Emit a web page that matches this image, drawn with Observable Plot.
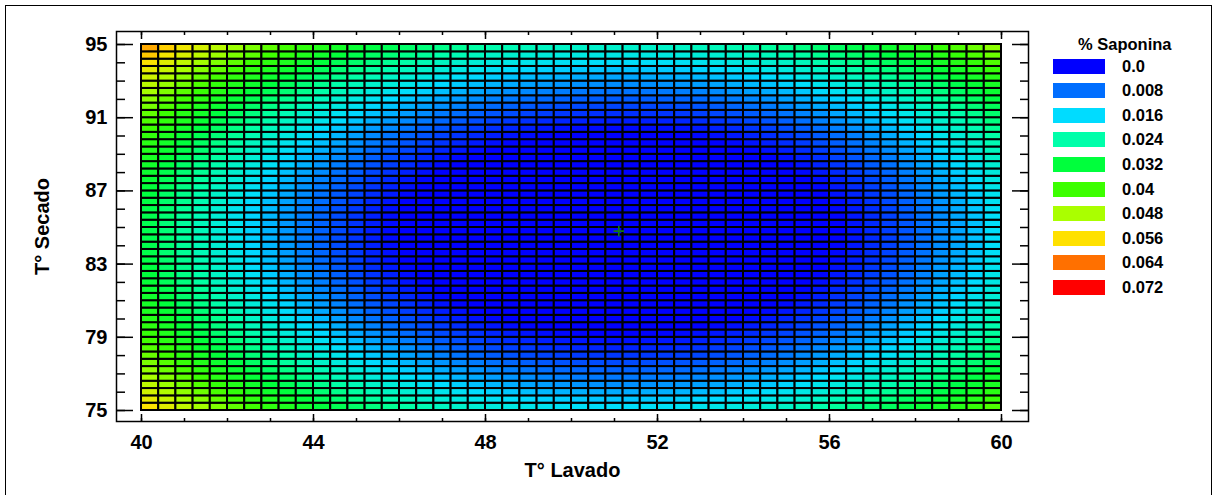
<!DOCTYPE html>
<html>
<head>
<meta charset="utf-8">
<script src="https://cdn.jsdelivr.net/npm/d3@7"></script>
<script src="https://cdn.jsdelivr.net/npm/@observablehq/plot@0.6"></script>
<style>
  html, body { margin: 0; padding: 0; background: #fff; overflow: hidden; }
  #wrap { position: relative; width: 1215px; height: 495px; font-family: "Liberation Sans", Arial, sans-serif; font-weight: bold; }
  #border { position: absolute; left: 5px; top: 5px; width: 1207px; height: 510px; border: 1.5px solid #000; box-sizing: border-box; pointer-events: none; }
  #chart { position: absolute; left: 0; top: 0; }
  #legend { position: absolute; left: 1053px; top: 31px; }
  #legend .title { position: absolute; left: 25px; top: 2px; width: 140px; font-size: 16.5px; line-height: 22px; white-space: nowrap; }
  #legend .row { position: absolute; left: 0; height: 24px; display: flex; align-items: center; white-space: nowrap; font-size: 16.5px; }
  #legend .sw { width: 52px; height: 15px; margin-right: 17px; }
</style>
</head>
<body>
<div id="wrap">
  <div id="chart"></div>
  <div id="legend"></div>
  <div id="border"></div>
</div>
<script>
// Axis ranges of the factors
const lavadoExtent = [40, 60];   // T° Lavado
const secadoExtent = [75, 95];   // T° Secado
const cellsPerAxis = 50;

// % Saponina across T° Lavado (columns), along the row through the optimum T° Secado
const saponinaPorLavado = [
  0.0306, 0.0278, 0.0251, 0.0225, 0.0199, 0.0175, 0.0152, 0.0131, 0.0110, 0.0090,
  0.0071, 0.0053, 0.0037, 0.0021, 0.0007, -0.0007, -0.0019, -0.0031, -0.0041, -0.0050,
  -0.0058, -0.0065, -0.0071, -0.0076, -0.0080, -0.0083, -0.0085, -0.0086, -0.0086, -0.0084,
  -0.0082, -0.0079, -0.0074, -0.0069, -0.0062, -0.0054, -0.0046, -0.0036, -0.0025, -0.0013,
  0.0000, 0.0014, 0.0029, 0.0045, 0.0062, 0.0080, 0.0100, 0.0120, 0.0141, 0.0164
];

// Increase of % Saponina for each T° Secado row (bottom to top), relative to the optimum row
const incrementoPorSecado = [
  0.0250, 0.0229, 0.0210, 0.0191, 0.0173, 0.0157, 0.0140, 0.0125, 0.0111, 0.0098,
  0.0085, 0.0073, 0.0062, 0.0052, 0.0043, 0.0035, 0.0028, 0.0021, 0.0016, 0.0011,
  0.0007, 0.0004, 0.0002, 0.0000, 0.0000, 0.0000, 0.0002, 0.0004, 0.0008, 0.0012,
  0.0017, 0.0023, 0.0030, 0.0038, 0.0047, 0.0057, 0.0068, 0.0079, 0.0092, 0.0106,
  0.0120, 0.0136, 0.0152, 0.0170, 0.0188, 0.0207, 0.0228, 0.0249, 0.0271, 0.0294
];

// Location of the optimum
const optimoLavado = [51.1];
const optimoSecado = [84.8];

// Colour levels of the legend
const nivelesSaponina = [0, 0.008, 0.016, 0.024, 0.032, 0.04, 0.048, 0.056, 0.064, 0.072];
const etiquetasSaponina = ["0.0", "0.008", "0.016", "0.024", "0.032", "0.04", "0.048", "0.056", "0.064", "0.072"];
const coloresSaponina = ["#0000ff", "#006eff", "#00dcff", "#00ffaa", "#00ff3c", "#3cff00", "#aaff00", "#ffe100", "#ff7000", "#ff0000"];

// Axis ticks
const lavadoTicks = [40, 44, 48, 52, 56, 60];
const secadoTicks = [75, 79, 83, 87, 91, 95];
const lavadoMinor = d3.range(40, 61, 1);
const secadoMinor = d3.range(75, 96, 1);

// Grid of cells
const dx = (lavadoExtent[1] - lavadoExtent[0]) / cellsPerAxis;
const dy = (secadoExtent[1] - secadoExtent[0]) / cellsPerAxis;
const cells = [];
incrementoPorSecado.forEach((inc, j) => {
  saponinaPorLavado.forEach((base, i) => {
    cells.push({
      x1: lavadoExtent[0] + i * dx,
      x2: lavadoExtent[0] + (i + 1) * dx,
      y1: secadoExtent[0] + j * dy,
      y2: secadoExtent[0] + (j + 1) * dy,
      value: base + inc
    });
  });
});

const tickStyle = {stroke: "black", strokeWidth: 1.5, text: null, label: null};

const plot = Plot.plot({
  width: 1215,
  height: 495,
  marginLeft: 116,
  marginRight: 187,
  marginTop: 31,
  marginBottom: 74,
  insetLeft: 25,
  insetRight: 27,
  insetTop: 13,
  insetBottom: 11,
  style: {fontFamily: "'Liberation Sans', Arial, sans-serif", fontSize: "20px", fontWeight: "bold", color: "black", background: "transparent"},
  x: {domain: lavadoExtent},
  y: {domain: secadoExtent},
  color: {type: "linear", domain: nivelesSaponina, range: coloresSaponina, clamp: true},
  marks: [
    Plot.rect(cells, {x1: "x1", x2: "x2", y1: "y1", y2: "y2", fill: "value", stroke: "black", strokeWidth: 2}),
    Plot.dot(optimoLavado.map((x, k) => ({x, y: optimoSecado[k]})), {x: "x", y: "y", symbol: "plus", r: 3.5, stroke: "#127a12", strokeWidth: 1.6}),
    Plot.frame({stroke: "black", strokeWidth: 1.5}),
    // inward ticks on all four sides
    Plot.axisY(secadoTicks, {...tickStyle, anchor: "left", tickSize: 17, dx: 17}),
    Plot.axisY(secadoMinor, {...tickStyle, anchor: "left", tickSize: 9, dx: 9}),
    Plot.axisY(secadoTicks, {...tickStyle, anchor: "right", tickSize: 17, dx: -17}),
    Plot.axisY(secadoMinor, {...tickStyle, anchor: "right", tickSize: 9, dx: -9}),
    Plot.axisX(lavadoTicks, {...tickStyle, anchor: "bottom", tickSize: 7, dy: -7}),
    Plot.axisX(lavadoMinor, {...tickStyle, anchor: "bottom", tickSize: 3, dy: -3}),
    Plot.axisX(lavadoTicks, {...tickStyle, anchor: "top", tickSize: 7, dy: 7}),
    Plot.axisX(lavadoMinor, {...tickStyle, anchor: "top", tickSize: 3, dy: 3}),
    // tick labels
    Plot.axisY(secadoTicks, {anchor: "left", tickSize: 0, tickPadding: 9, label: null, fill: "black"}),
    Plot.axisX(lavadoTicks, {anchor: "bottom", tickSize: 0, tickPadding: 13, label: null, fill: "black"}),
    // axis titles
    Plot.text(["T° Lavado"], {frameAnchor: "bottom", text: d => d, textAnchor: "middle", lineAnchor: "middle", dy: 49, fill: "black"}),
    Plot.text(["T° Secado"], {frameAnchor: "left", text: d => d, textAnchor: "middle", lineAnchor: "middle", rotate: -90, dx: -74, fill: "black"})
  ]
});
document.getElementById("chart").appendChild(plot);

// Legend built from the same colour scale
const colorScale = plot.scale("color");
const legend = document.getElementById("legend");
const title = document.createElement("div");
title.className = "title";
title.textContent = "% Saponina";
legend.appendChild(title);
nivelesSaponina.forEach((v, k) => {
  const row = document.createElement("div");
  row.className = "row";
  row.style.top = (23 + k * 24.6) + "px";
  const sw = document.createElement("div");
  sw.className = "sw";
  sw.style.background = colorScale.apply(v);
  const lab = document.createElement("span");
  lab.textContent = etiquetasSaponina[k];
  row.appendChild(sw);
  row.appendChild(lab);
  legend.appendChild(row);
});
</script>
</body>
</html>
